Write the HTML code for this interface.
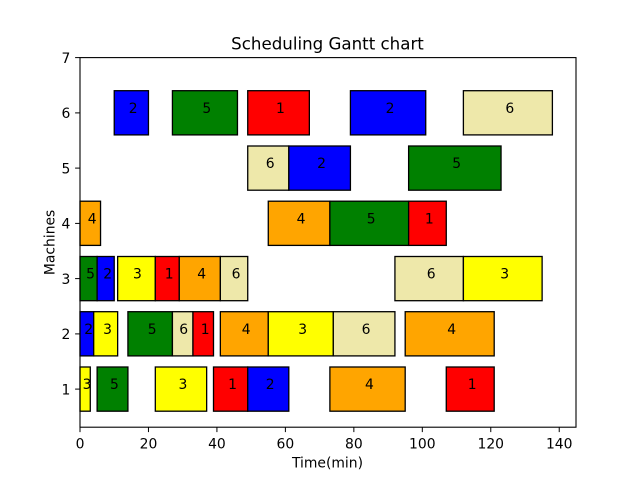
<!DOCTYPE html>
<html><head><meta charset="utf-8"><style>
html,body{margin:0;padding:0;background:#fff;}
svg{display:block;}
text{font-family:"DejaVu Sans","Liberation Sans",sans-serif;fill:#000;}
</style></head><body>
<svg width="640" height="480" viewBox="0 0 640 480" xmlns="http://www.w3.org/2000/svg">
<rect x="0" y="0" width="640" height="480" fill="#fff"/>
<g stroke="#000" stroke-width="1.3">
<!-- M1 -->
<rect x="80" y="367.0" width="10.27" height="44.2" fill="#ffff00"/>
<rect x="97.12" y="367.0" width="30.80" height="44.2" fill="#008000"/>
<rect x="155.31" y="367.0" width="51.34" height="44.2" fill="#ffff00"/>
<rect x="213.50" y="367.0" width="34.23" height="44.2" fill="#ff0000"/>
<rect x="247.73" y="367.0" width="41.08" height="44.2" fill="#0000ff"/>
<rect x="329.89" y="367.0" width="75.30" height="44.2" fill="#ffa500"/>
<rect x="446.27" y="367.0" width="47.93" height="44.2" fill="#ff0000"/>
<!-- M2 -->
<rect x="80" y="311.7" width="13.69" height="44.2" fill="#0000ff"/>
<rect x="93.69" y="311.7" width="23.96" height="44.2" fill="#ffff00"/>
<rect x="127.92" y="311.7" width="44.50" height="44.2" fill="#008000"/>
<rect x="172.42" y="311.7" width="20.54" height="44.2" fill="#eee8aa"/>
<rect x="192.96" y="311.7" width="20.54" height="44.2" fill="#ff0000"/>
<rect x="220.35" y="311.7" width="47.92" height="44.2" fill="#ffa500"/>
<rect x="268.27" y="311.7" width="65.04" height="44.2" fill="#ffff00"/>
<rect x="333.31" y="311.7" width="61.62" height="44.2" fill="#eee8aa"/>
<rect x="405.19" y="311.7" width="89.01" height="44.2" fill="#ffa500"/>
<!-- M3 -->
<rect x="80" y="256.5" width="17.12" height="44.2" fill="#008000"/>
<rect x="97.12" y="256.5" width="17.11" height="44.2" fill="#0000ff"/>
<rect x="117.65" y="256.5" width="37.66" height="44.2" fill="#ffff00"/>
<rect x="155.31" y="256.5" width="23.96" height="44.2" fill="#ff0000"/>
<rect x="179.27" y="256.5" width="41.08" height="44.2" fill="#ffa500"/>
<rect x="220.35" y="256.5" width="27.38" height="44.2" fill="#eee8aa"/>
<rect x="394.93" y="256.5" width="68.46" height="44.2" fill="#eee8aa"/>
<rect x="463.39" y="256.5" width="78.73" height="44.2" fill="#ffff00"/>
<!-- M4 -->
<rect x="80" y="201.2" width="20.54" height="44.2" fill="#ffa500"/>
<rect x="268.27" y="201.2" width="61.62" height="44.2" fill="#ffa500"/>
<rect x="329.89" y="201.2" width="78.73" height="44.2" fill="#008000"/>
<rect x="408.62" y="201.2" width="37.65" height="44.2" fill="#ff0000"/>
<!-- M5 -->
<rect x="247.73" y="146.0" width="41.08" height="44.2" fill="#eee8aa"/>
<rect x="288.81" y="146.0" width="61.61" height="44.2" fill="#0000ff"/>
<rect x="408.62" y="146.0" width="92.42" height="44.2" fill="#008000"/>
<!-- M6 -->
<rect x="114.23" y="90.7" width="34.23" height="44.2" fill="#0000ff"/>
<rect x="172.42" y="90.7" width="65.04" height="44.2" fill="#008000"/>
<rect x="247.73" y="90.7" width="61.62" height="44.2" fill="#ff0000"/>
<rect x="350.42" y="90.7" width="75.31" height="44.2" fill="#0000ff"/>
<rect x="463.39" y="90.7" width="89.00" height="44.2" fill="#eee8aa"/>
</g>
<g font-size="13.9px">
<!-- M1 y=389.1 -->
<text x="82.6" y="389.1">3</text>
<text x="110.0" y="389.1">5</text>
<text x="178.5" y="389.1">3</text>
<text x="228.1" y="389.1">1</text>
<text x="265.8" y="389.1">2</text>
<text x="365.0" y="389.1">4</text>
<text x="467.7" y="389.1">1</text>
<!-- M2 y=333.9 -->
<text x="84.3" y="333.9">2</text>
<text x="103.1" y="333.9">3</text>
<text x="147.7" y="333.9">5</text>
<text x="179.2" y="333.9">6</text>
<text x="200.7" y="333.9">1</text>
<text x="241.8" y="333.9">4</text>
<text x="298.3" y="333.9">3</text>
<text x="361.6" y="333.9">6</text>
<text x="447.2" y="333.9">4</text>
<!-- M3 y=278.6 -->
<text x="86.1" y="278.6">5</text>
<text x="103.2" y="278.6">2</text>
<text x="133.0" y="278.6">3</text>
<text x="164.8" y="278.6">1</text>
<text x="197.3" y="278.6">4</text>
<text x="231.6" y="278.6">6</text>
<text x="426.7" y="278.6">6</text>
<text x="500.3" y="278.6">3</text>
<!-- M4 y=223.4 -->
<text x="87.8" y="223.4">4</text>
<text x="296.6" y="223.4">4</text>
<text x="366.8" y="223.4">5</text>
<text x="424.9" y="223.4">1</text>
<!-- M5 y=168.1 -->
<text x="265.8" y="168.1">6</text>
<text x="317.1" y="168.1">2</text>
<text x="452.3" y="168.1">5</text>
<!-- M6 y=112.9 -->
<text x="128.8" y="112.9">2</text>
<text x="202.4" y="112.9">5</text>
<text x="276.0" y="112.9">1</text>
<text x="385.6" y="112.9">2</text>
<text x="505.4" y="112.9">6</text>
</g>
<!-- axes frame -->
<rect x="80" y="57.6" width="496" height="369.6" fill="none" stroke="#000" stroke-width="1.1"/>
<!-- x ticks -->
<g stroke="#000" stroke-width="1">
<line x1="80" y1="427.2" x2="80" y2="432.1"/>
<line x1="148.46" y1="427.2" x2="148.46" y2="432.1"/>
<line x1="216.92" y1="427.2" x2="216.92" y2="432.1"/>
<line x1="285.39" y1="427.2" x2="285.39" y2="432.1"/>
<line x1="353.85" y1="427.2" x2="353.85" y2="432.1"/>
<line x1="422.31" y1="427.2" x2="422.31" y2="432.1"/>
<line x1="490.77" y1="427.2" x2="490.77" y2="432.1"/>
<line x1="559.23" y1="427.2" x2="559.23" y2="432.1"/>
<!-- y ticks -->
<line x1="75.1" y1="389.1" x2="80" y2="389.1"/>
<line x1="75.1" y1="333.9" x2="80" y2="333.9"/>
<line x1="75.1" y1="278.6" x2="80" y2="278.6"/>
<line x1="75.1" y1="223.4" x2="80" y2="223.4"/>
<line x1="75.1" y1="168.1" x2="80" y2="168.1"/>
<line x1="75.1" y1="112.9" x2="80" y2="112.9"/>
<line x1="75.1" y1="57.6" x2="80" y2="57.6"/>
</g>
<g font-size="13.9px" text-anchor="middle">
<text x="80" y="448.3">0</text>
<text x="148.46" y="448.3">20</text>
<text x="216.92" y="448.3">40</text>
<text x="285.39" y="448.3">60</text>
<text x="353.85" y="448.3">80</text>
<text x="422.31" y="448.3">100</text>
<text x="490.77" y="448.3">120</text>
<text x="559.23" y="448.3">140</text>
</g>
<g font-size="13.9px" text-anchor="end">
<text x="70.3" y="394.4">1</text>
<text x="70.3" y="339.2">2</text>
<text x="70.3" y="283.9">3</text>
<text x="70.3" y="228.7">4</text>
<text x="70.3" y="173.4">5</text>
<text x="70.3" y="118.2">6</text>
<text x="70.3" y="62.9">7</text>
</g>
<text x="327.5" y="467.6" font-size="13.9px" text-anchor="middle">Time(min)</text>
<text x="0" y="0" font-size="13.9px" text-anchor="middle" transform="translate(54.3,242.4) rotate(-90)">Machines</text>
<text x="327.5" y="49.3" font-size="16.67px" text-anchor="middle">Scheduling Gantt chart</text>
</svg>
</body></html>
